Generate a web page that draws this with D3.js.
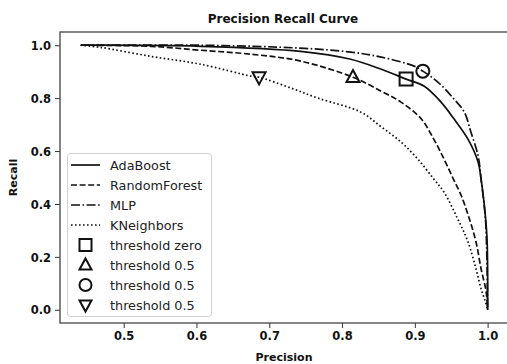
<!DOCTYPE html>
<html>
<head>
<meta charset="utf-8">
<script src="https://cdn.jsdelivr.net/npm/d3@7"></script>
<style>
  body { margin: 0; background: #fff; }
  svg { display: block; font-family: "DejaVu Sans", sans-serif; }
</style>
</head>
<body>
<svg id="chart" width="507" height="364"></svg>
<script>
// Precision / recall pairs
const adaPrecision = [0.441, 0.606, 0.743, 0.812, 0.854, 0.888, 0.913, 0.936, 0.954, 0.973, 0.987, 0.991, 0.995, 0.999, 1.0, 1.0];
const adaRecall    = [1.0, 0.996, 0.977, 0.947, 0.909, 0.872, 0.845, 0.785, 0.721, 0.645, 0.558, 0.494, 0.408, 0.279, 0.155, 0.0];

const rfPrecision = [0.441, 0.537, 0.606, 0.675, 0.743, 0.815, 0.854, 0.881, 0.909, 0.926, 0.940, 0.953, 0.964, 0.975, 0.984, 0.991, 0.998, 1.0];
const rfRecall    = [1.0, 0.996, 0.981, 0.966, 0.940, 0.879, 0.826, 0.785, 0.721, 0.645, 0.570, 0.494, 0.430, 0.343, 0.257, 0.155, 0.068, 0.0];

const mlpPrecision = [0.441, 0.606, 0.743, 0.812, 0.854, 0.899, 0.911, 0.932, 0.954, 0.968, 0.977, 0.987, 0.991, 0.997, 0.999, 1.0];
const mlpRecall    = [1.0, 1.0, 0.989, 0.974, 0.955, 0.921, 0.902, 0.860, 0.796, 0.747, 0.672, 0.581, 0.494, 0.343, 0.192, 0.0];

const knPrecision = [0.441, 0.468, 0.537, 0.606, 0.675, 0.686, 0.730, 0.767, 0.826, 0.854, 0.881, 0.904, 0.926, 0.940, 0.959, 0.973, 0.984, 0.991, 0.997, 1.0];
const knRecall    = [1.0, 0.992, 0.958, 0.928, 0.883, 0.879, 0.838, 0.800, 0.747, 0.691, 0.634, 0.570, 0.494, 0.445, 0.343, 0.257, 0.155, 0.079, 0.030, 0.0];

const seriesNames = ['AdaBoost', 'RandomForest', 'MLP', 'KNeighbors'];
const markerNames = ['threshold zero', 'threshold 0.5', 'threshold 0.5', 'threshold 0.5'];
const markerPrecision = [0.888, 0.815, 0.911, 0.686];
const markerRecall    = [0.872, 0.879, 0.902, 0.879];

const xTicks = [0.5, 0.6, 0.7, 0.8, 0.9, 1.0];
const yTicks = [0.0, 0.2, 0.4, 0.6, 0.8, 1.0];

// line styles per series
const DASHES = [null, '6,2.6', '9,2.5,1.6,2.5', '1.6,2.4'];
const MARKERS = ['square', 'triangleUp', 'circle', 'triangleDown'];

const svg = d3.select('#chart');
const margin = { left: 60, top: 32, right: 508, bottom: 323 };

const x = d3.scaleLinear().domain([0.4125, 1.028]).range([margin.left, margin.right]);
const y = d3.scaleLinear().domain([-0.05, 1.05]).range([margin.bottom, margin.top]);

const series = [
  d3.zip(adaPrecision, adaRecall),
  d3.zip(rfPrecision, rfRecall),
  d3.zip(mlpPrecision, mlpRecall),
  d3.zip(knPrecision, knRecall),
];

const line = d3.line()
  .x(d => x(d[0]))
  .y(d => y(d[1]))
  .curve(d3.curveCatmullRom.alpha(0.5));

// marker path generator centred on 0,0
function markerPath(kind, s) {
  const h = s / 2;
  if (kind === 'square') return `M${-h},${-h}H${h}V${h}H${-h}Z`;
  if (kind === 'triangleUp') return `M0,${-h * 1.1}L${h},${h * 0.75}L${-h},${h * 0.75}Z`;
  if (kind === 'triangleDown') return `M0,${h * 1.1}L${h},${-h * 0.75}L${-h},${-h * 0.75}Z`;
  return d3.symbol(d3.symbolCircle, Math.PI * h * h)();
}

// --- axes ---
const xAxis = svg.append('g')
  .attr('transform', `translate(0,${margin.bottom})`)
  .call(d3.axisBottom(x).tickValues(xTicks).tickFormat(d3.format('.1f')).tickSize(5).tickPadding(4));
const yAxis = svg.append('g')
  .attr('transform', `translate(${margin.left},0)`)
  .call(d3.axisLeft(y).tickValues(yTicks).tickFormat(d3.format('.1f')).tickSize(5).tickPadding(4));

[xAxis, yAxis].forEach(a => {
  a.select('.domain').remove();
  a.selectAll('.tick line').attr('stroke', '#333').attr('stroke-width', 1);
  a.selectAll('.tick text')
    .attr('font-family', '"DejaVu Sans", sans-serif')
    .attr('font-size', 11.5)
    .attr('font-weight', 'bold')
    .attr('fill', '#111');
});
yAxis.selectAll('.tick text').attr('dy', '0.36em');

// --- curves ---
const plot = svg.append('g');
series.forEach((pts, i) => {
  plot.append('path')
    .datum(pts)
    .attr('d', line)
    .attr('fill', 'none')
    .attr('stroke', '#111')
    .attr('stroke-width', 1.7)
    .attr('stroke-dasharray', DASHES[i]);
});

// threshold markers
markerPrecision.forEach((p, i) => {
  plot.append('path')
    .attr('d', markerPath(MARKERS[i], 13))
    .attr('transform', `translate(${x(p)},${y(markerRecall[i])})`)
    .attr('fill', 'none')
    .attr('stroke', '#111')
    .attr('stroke-width', 2);
});

// spines
svg.append('rect')
  .attr('x', margin.left).attr('y', margin.top)
  .attr('width', margin.right - margin.left)
  .attr('height', margin.bottom - margin.top)
  .attr('fill', 'none')
  .attr('stroke', '#444')
  .attr('stroke-width', 1.3);

// --- legend ---
const lg = svg.append('g');
lg.append('rect')
  .attr('x', 67.5).attr('y', 153.5)
  .attr('width', 144).attr('height', 163)
  .attr('rx', 3)
  .attr('fill', 'rgba(255,255,255,0.85)')
  .attr('stroke', '#d0d0d0');

const legendRows = seriesNames.map((name, i) => ({ name, kind: 'line', i }))
  .concat(markerNames.map((name, i) => ({ name, kind: 'marker', i })));

legendRows.forEach((row, k) => {
  const cy = 165 + k * 20;
  if (row.kind === 'line') {
    lg.append('line')
      .attr('x1', 71).attr('x2', 100)
      .attr('y1', cy).attr('y2', cy)
      .attr('stroke', '#111')
      .attr('stroke-width', 1.7)
      .attr('stroke-dasharray', DASHES[row.i]);
  } else {
    lg.append('path')
      .attr('d', markerPath(MARKERS[row.i], 12))
      .attr('transform', `translate(85.5,${cy})`)
      .attr('fill', 'none')
      .attr('stroke', '#111')
      .attr('stroke-width', 2);
  }
  lg.append('text')
    .attr('x', 110).attr('y', cy)
    .attr('dy', '0.36em')
    .attr('font-size', 12.8)
    .attr('fill', '#222')
    .text(row.name);
});

// --- titles ---
svg.append('text')
  .attr('x', 283).attr('y', 23)
  .attr('text-anchor', 'middle')
  .attr('font-size', 12)
  .attr('font-weight', 'bold')
  .attr('fill', '#111')
  .text('Precision Recall Curve');

svg.append('text')
  .attr('x', 284).attr('y', 361)
  .attr('text-anchor', 'middle')
  .attr('font-size', 11)
  .attr('font-weight', 'bold')
  .attr('fill', '#111')
  .text('Precision');

svg.append('text')
  .attr('transform', `translate(17,${(margin.top + margin.bottom) / 2}) rotate(-90)`)
  .attr('text-anchor', 'middle')
  .attr('font-size', 11)
  .attr('font-weight', 'bold')
  .attr('fill', '#111')
  .text('Recall');
</script>
</body>
</html>
